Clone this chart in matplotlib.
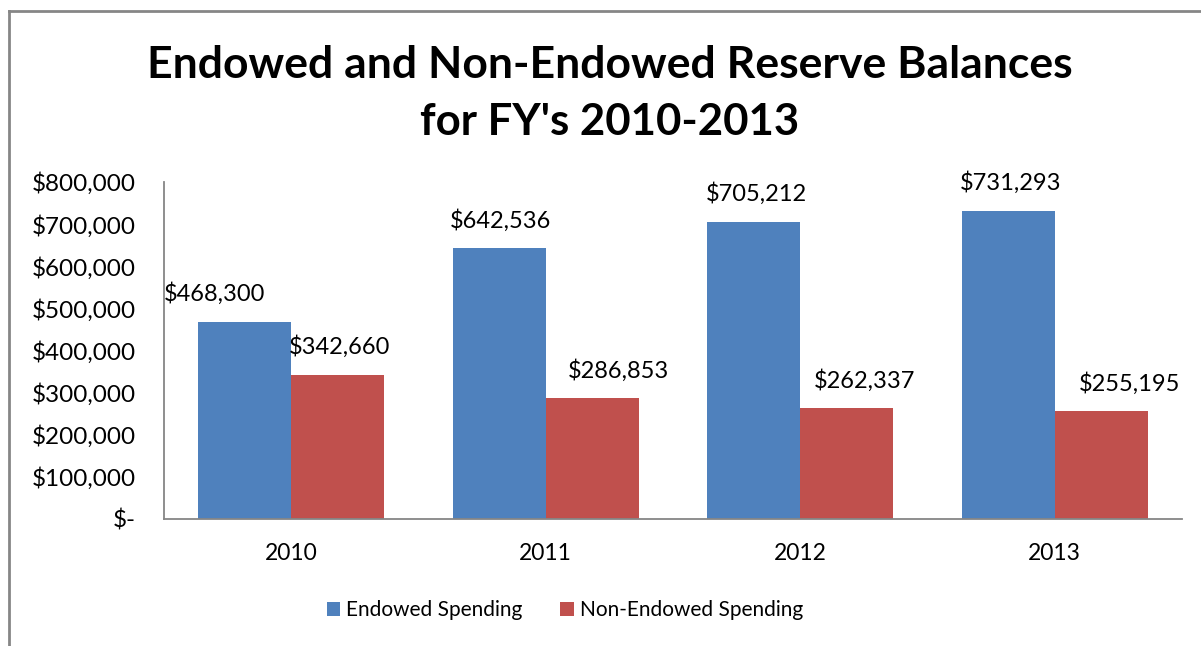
import matplotlib.pyplot as plt
import numpy as np
from matplotlib.lines import Line2D
from matplotlib.ticker import FuncFormatter

plt.rcParams["font.family"] = ["Lato", "DejaVu Sans"]

years = ["2010", "2011", "2012", "2013"]
endowed = [468300, 642536, 705212, 731293]
non_endowed = [342660, 286853, 262337, 255195]
series_names = ["Endowed Spending", "Non-Endowed Spending"]

# horizontal nudges of the value labels (points), as placed on the sheet
endowed_label_dx = [-22, 1, 2, 2]
non_endowed_label_dx = [1, 19, 13, 20]

BLUE = "#4F81BD"
RED = "#C0504D"
GREY = "#868686"

fig = plt.figure(figsize=(12.01, 6.46), dpi=100)
ax = fig.add_axes([164 / 1201, 1 - 519 / 646, (1182 - 164) / 1201, (519 - 182) / 646])

x = np.arange(len(years))
w = 0.366
b1 = ax.bar(x - w / 2, endowed, w, color=BLUE, label=series_names[0])
b2 = ax.bar(x + w / 2, non_endowed, w, color=RED, label=series_names[1])

ax.set_xlim(-0.5, len(years) - 0.5)
ax.set_ylim(0, 800000)
ax.set_yticks(np.arange(0, 800001, 100000))
ax.yaxis.set_major_formatter(FuncFormatter(lambda v, _: "$-" if v == 0 else f"${v:,.0f}"))
ax.set_xticks(x)
ax.set_xticklabels(years)
ax.tick_params(axis="y", length=0, pad=20, labelsize=17.5)
ax.tick_params(axis="x", length=0, pad=17, labelsize=16.5)

for s in ["top", "right"]:
    ax.spines[s].set_visible(False)
for s in ["left", "bottom"]:
    ax.spines[s].set_color(GREY)
    ax.spines[s].set_linewidth(1.3)

for bars, vals, dxs in [(b1, endowed, endowed_label_dx), (b2, non_endowed, non_endowed_label_dx)]:
    for rect, v, dx in zip(bars, vals, dxs):
        ax.annotate(f"${v:,.0f}", (rect.get_x() + rect.get_width() / 2, v),
                    xytext=(dx, 12), textcoords="offset points",
                    ha="center", va="bottom", fontsize=17)

fig.text(610 / 1201, 1 - 65 / 646, "Endowed and Non-Endowed Reserve Balances",
         ha="center", va="center", fontsize=32, fontweight="bold")
fig.text(610 / 1201, 1 - 122 / 646, "for FY's 2010-2013",
         ha="center", va="center", fontsize=31.5, fontweight="bold")

ax.legend(loc="center", bbox_to_anchor=(565 / 1201, 1 - 610 / 646),
          bbox_transform=fig.transFigure, ncol=2, frameon=False, fontsize=15,
          handlelength=0.65, handleheight=0.65, handletextpad=0.3, columnspacing=1.8)

# chart area border
fig.add_artist(Line2D([9 / 1201, 1.0], [1 - 11 / 646, 1 - 11 / 646], color=GREY, lw=2))
fig.add_artist(Line2D([9 / 1201, 9 / 1201], [0.0, 1 - 11 / 646], color=GREY, lw=2))

fig.savefig("out.png", dpi=100)
